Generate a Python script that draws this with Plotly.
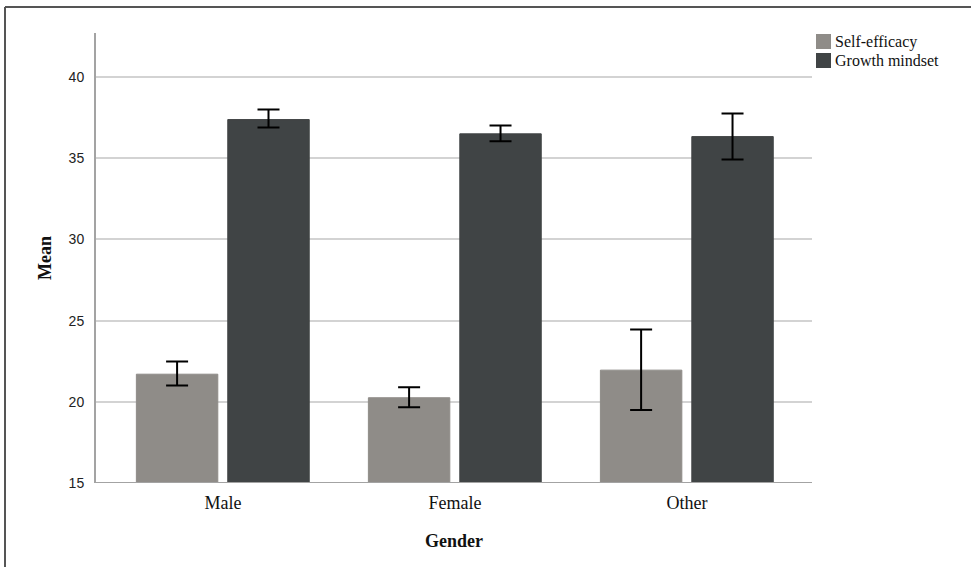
import plotly.graph_objects as go

categories = ["Male", "Female", "Other"]
series_names = ["Self-efficacy", "Growth mindset"]
self_efficacy_mean = [21.7, 20.25, 21.95]
self_efficacy_low = [21.0, 19.67, 19.5]
self_efficacy_high = [22.48, 20.9, 24.45]
growth_mean = [37.38, 36.5, 36.33]
growth_low = [36.89, 36.05, 34.92]
growth_high = [38.0, 37.01, 37.75]
colors = ["#8f8c88", "#404445"]
y_ticks = [15, 20, 25, 30, 35, 40]
y_base = 15

W, H = 971, 567
ML, MR, MT, MB = 96, 159, 33, 84
PW, PH = W - ML - MR, H - MT - MB

serif = "Liberation Serif, DejaVu Serif, serif"
sans = "Liberation Sans, Arial, sans-serif"

fig = go.Figure()
series = [
    (self_efficacy_mean, self_efficacy_low, self_efficacy_high, -0.373),
    (growth_mean, growth_low, growth_high, 0.021),
]
for i, (m, lo, hi, off) in enumerate(series):
    fig.add_trace(go.Bar(
        x=categories, y=[v - y_base for v in m], name=series_names[i],
        base=y_base,
        width=0.351, offset=off,
        marker=dict(color=colors[i], line=dict(width=1, color=colors[i])),
        error_y=dict(type="data", symmetric=False,
                     array=[h - v for h, v in zip(hi, m)],
                     arrayminus=[v - l for v, l in zip(m, lo)],
                     color="black", thickness=2, width=11),
        showlegend=False,
        hoverinfo="skip",
    ))

fig.update_layout(
    width=W, height=H,
    margin=dict(l=ML, r=MR, t=MT, b=MB),
    paper_bgcolor="white", plot_bgcolor="white",
    barmode="overlay",
    xaxis=dict(type="category", range=[-0.547, 2.539],
               showgrid=False, showline=False, zeroline=False,
               tickfont=dict(family=serif, size=18, color="#111"),
               ticks="", ticklabelstandoff=7,
               title=dict(text="<b>Gender</b>", font=dict(family=serif, size=18, color="#111"), standoff=22)),
    yaxis=dict(range=[y_base, y_base + PH / 16.24], tickvals=y_ticks,
               showgrid=True, gridcolor="#d3d3d3", gridwidth=2,
               showline=True, linecolor="#a3a3a3", linewidth=2,
               zeroline=False, ticks="", ticklabelstandoff=7,
               tickfont=dict(family=sans, size=14, color="#222"),
               title=dict(text="<b>Mean</b>", font=dict(family=serif, size=18, color="#111"), standoff=12)),
)

# bottom axis line
fig.add_shape(type="line", xref="paper", yref="y", x0=0, x1=1, y0=y_base, y1=y_base,
              line=dict(color="#a3a3a3", width=2), layer="above")

# outer frame (top and left edges)
fx = (5 - ML) / PW
fy = 1 + (MT - 7) / PH
fig.add_shape(type="line", xref="paper", yref="paper", x0=fx, x1=(W - ML) / PW + 0.01, y0=fy, y1=fy,
              line=dict(color="#555", width=2))
fig.add_shape(type="line", xref="paper", yref="paper", x0=fx, x1=fx, y0=fy, y1=-(MB + 5) / PH,
              line=dict(color="#555", width=2))

# legend (manual)
for i, name in enumerate(series_names):
    top = 34 + i * 19
    x0 = (816 - ML) / PW
    x1 = (831 - ML) / PW
    y0 = 1 - (top - MT) / PH
    y1 = 1 - (top + 15 - MT) / PH
    fig.add_shape(type="rect", xref="paper", yref="paper", x0=x0, x1=x1, y0=y0, y1=y1,
                  fillcolor=colors[i], line=dict(width=0))
    fig.add_annotation(xref="paper", yref="paper", x=(833 - ML) / PW, y=(y0 + y1) / 2,
                       text=name, showarrow=False, xanchor="left", yanchor="middle",
                       font=dict(family=serif, size=16, color="#111"))

fig.write_html("out.html", config={"displayModeBar": False},
               post_script="document.body.style.margin='0';document.body.style.overflow='hidden';")
